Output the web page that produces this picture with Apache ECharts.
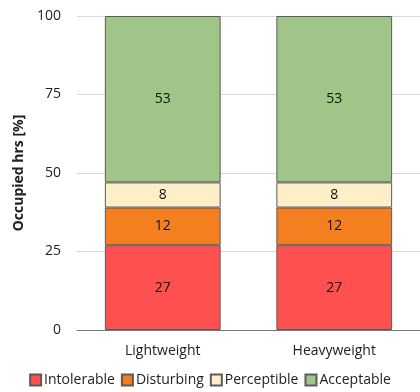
<!DOCTYPE html>
<html><head><meta charset="utf-8">
<script src="https://cdn.jsdelivr.net/npm/echarts@6/dist/echarts.min.js"></script>
<style>html,body{margin:0;padding:0;background:#fff}#c{width:420px;height:392px}</style>
</head><body><div id="c"></div>
<script>
const categories = ['Lightweight', 'Heavyweight'];
const seriesNames = ['Intolerable', 'Disturbing', 'Perceptible', 'Acceptable'];
const intolerable = [27, 27];
const disturbing = [12, 12];
const perceptible = [8, 8];
const acceptable = [53, 53];
const yTicks = [0, 25, 50, 75, 100];

const colors = ['#FF5050', '#F47F20', '#FFEFC9', '#A1C588'];
const values = [intolerable, disturbing, perceptible, acceptable];
const font = 'Open Sans';

const chart = echarts.init(document.getElementById('c'));
chart.setOption({
  animation: false,
  textStyle: { fontFamily: font },
  grid: { left: 77, top: 16, right: 0, height: 314, containLabel: false },
  legend: {
    bottom: 0, left: 'center', itemWidth: 11, itemHeight: 11, itemGap: 6,
    icon: 'rect',
    textStyle: { fontFamily: font, fontSize: 14, color: '#222', padding: [0, 0, 0, -2] },
    data: seriesNames
  },
  xAxis: {
    type: 'category', data: categories,
    axisLine: { lineStyle: { color: '#777' } },
    axisTick: { show: false },
    axisLabel: { fontFamily: font, fontSize: 14, color: '#222', margin: 14 }
  },
  yAxis: {
    type: 'value', min: yTicks[0], max: yTicks[yTicks.length - 1], interval: 25,
    name: 'Occupied hrs [%]', nameLocation: 'middle', nameGap: 49,
    nameTextStyle: { fontFamily: font, fontSize: 14, fontWeight: 'bold', color: '#222' },
    axisLine: { show: false }, axisTick: { show: false },
    axisLabel: { fontFamily: font, fontSize: 14, color: '#222', margin: 16 },
    splitLine: { lineStyle: { color: '#d9d9d9' } }
  },
  series: seriesNames.map((n, i) => ({
    name: n, type: 'bar', stack: 'a', data: values[i], barWidth: '67.5%',
    itemStyle: { color: colors[i], borderColor: '#5a5a5a', borderWidth: 1 },
    label: { show: true, position: 'inside', fontFamily: font, fontSize: 14, color: '#111' }
  }))
});
</script></body></html>
